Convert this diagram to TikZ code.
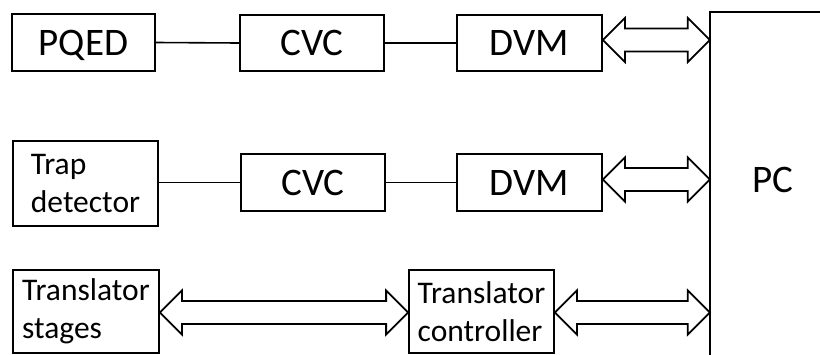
\documentclass[tikz,border=0pt]{standalone}
\usepackage{fontspec}
\setmainfont{Carlito}
\usetikzlibrary{calc}
\tikzset{
  blk/.style={draw, line width=1.8pt, inner sep=0pt, font=\fontsize{39}{46}\selectfont,
    text height=25pt, text depth=0pt},
  blktwo/.style={draw, line width=1.8pt, inner sep=0pt, align=left,
    font=\fontsize{31.5}{38.5}\selectfont},
  wire/.style={line width=1.6pt},
  bus/.style={line width=1.8pt, fill=white},
}
% hollow two-headed bus arrow between two anchors (same height)
\newcommand\twoway[3][0pt]{%
  \draw[bus] let \p1=([yshift=#1]#2), \p2=(#3) in
    (\x1,\y1) -- (\x1+22pt,\y1+22pt) -- (\x1+22pt,\y1+11.5pt)
    -- (\x2-22pt,\y1+11.5pt) -- (\x2-22pt,\y1+22pt) -- (\x2,\y1)
    -- (\x2-22pt,\y1-22pt) -- (\x2-22pt,\y1-11.5pt)
    -- (\x1+22pt,\y1-11.5pt) -- (\x1+22pt,\y1-22pt) -- cycle;}
\begin{document}
\begin{tikzpicture}[x=1pt, y=-1pt]
\useasboundingbox (0,0) rectangle (820,354);
\clip (0,0) rectangle (820,354);

% row 1
\node[blk, minimum width=143, minimum height=57] (pqed) at (83.5,42.5) {PQED};
\node[blk, minimum width=144, minimum height=56] (cvca) at (312,43) {CVC};
\node[blk, minimum width=145, minimum height=56] (dvma) at (529.5,43) {DVM};

% row 2
\node[blktwo, minimum width=145, minimum height=85] (trap) at (85.5,183.5) {Trap\\detector};
\node[blk, minimum width=144, minimum height=57] (cvcb) at (313,182.5) {CVC};
\node[blk, minimum width=145, minimum height=57] (dvmb) at (529.5,182.5) {DVM};

% row 3
\node[blktwo, minimum width=146, minimum height=83] (stages) at (86,311.5) {Translator\\stages};
\node[blktwo, minimum width=145, minimum height=83] (ctrl) at (481.5,311.5) {Translator\\controller};

% computer frame (only top and left edges fall inside the page)
\node[minimum width=120, minimum height=352, inner sep=0pt] (pc) at (770,188) {};
\draw[line width=1.8pt] (pc.south west) -- (pc.north west) -- (pc.north east);
\node[font=\fontsize{39}{46}\selectfont, inner sep=0pt, text height=25pt, text depth=0pt]
  (pclabel) at (773,179.5) {PC};

% signal wires
\draw[wire] (pqed.east) -- (cvca.west);
\draw[wire] (cvca.east) -- (dvma.west);
\draw[wire] (trap.east |- cvcb.west) -- (cvcb.west);
\draw[wire] (cvcb.east) -- (dvmb.west);

% data buses
\twoway[3pt]{dvma.east}{pc.west}
\twoway[3pt]{dvmb.east}{pc.west}
\twoway[-1pt]{stages.east}{ctrl.west}
\twoway[-1pt]{ctrl.east}{pc.west}
\end{tikzpicture}
\end{document}
